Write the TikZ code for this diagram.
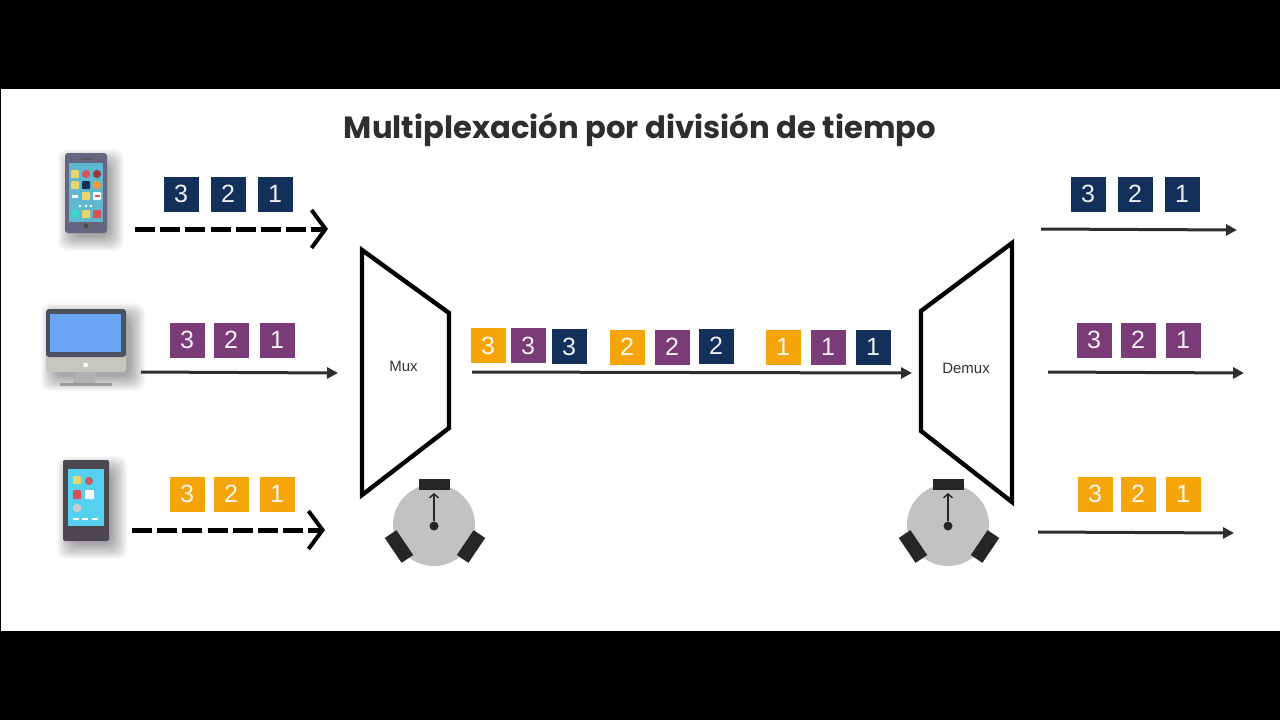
\documentclass[tikz,border=0pt]{standalone}
\usepackage{fontspec}
\setmainfont{Liberation Sans}
\newfontfamily\titlefont{Poppins}
\usetikzlibrary{arrows.meta}
\definecolor{azul}{HTML}{12305A}
\definecolor{morado}{HTML}{7B3B78}
\definecolor{naranja}{HTML}{F5A50A}
\definecolor{linea}{HTML}{2E2E2E}
\definecolor{amarillo}{HTML}{E9D56A}
\definecolor{rojo}{HTML}{DB4F57}
\definecolor{turquesa}{HTML}{3FD8C8}
\newcommand{\softshadow}[4]{\foreach \d in {-2,...,13} {\fill[black,opacity=0.022,rounded corners=9pt] (#1-\d,#2-\d) rectangle (#3+\d,#4+\d);}}
\begin{document}
\begin{tikzpicture}[x=1pt,y=-1pt]
    \tikzset{
        paquete/.style={minimum size=35pt,inner sep=0pt,text=white!92!#1,fill=#1,font=\fontsize{25}{25}\selectfont},
        flecha/.style={linea,line width=3pt,-{Triangle[length=11pt,width=11pt]}},
        punteada/.style={black,line width=5pt,dash pattern=on 20pt off 5.2pt,-{Straight Barb[length=14pt,width=38pt,line width=4pt]}},
        trapecio/.style={line width=4.4pt,miter limit=20,fill=white},
        etiqueta/.style={inner sep=0pt,text=black!80,font=\fontsize{15}{15}\selectfont},
        robot/.pic={
            \node[circle,fill=black!24,minimum size=82pt,inner sep=0pt] (-cuerpo) at (0,0) {};
            \node[fill=black!85,minimum width=31pt,minimum height=11pt,inner sep=0pt] (-sensor) at (0,-40.5) {};
            \node[fill=black!85,minimum width=30pt,minimum height=14pt,inner sep=0pt,rotate=-56] (-ruedaA) at (-35,21.5) {};
            \node[fill=black!85,minimum width=30pt,minimum height=14pt,inner sep=0pt,rotate=56] (-ruedaB) at (37,21.5) {};
            \node[circle,fill=black!85,minimum size=9pt,inner sep=0pt] (-eje) at (0,1) {};
            \coordinate (-punta) at (0,-32);
            \draw[black!85,line width=1.4pt,-{Straight Barb[length=4pt,width=9pt]}] (-eje) -- (-punta);
        }
    }
    % fondo
    \fill[black] (0,0) rectangle (1280,720);
    \fill[white] (1,89) rectangle (1280,631);
    \node[inner sep=0pt,text=black!82] (titulo) at (640,130) {\titlefont\fontsize{30.7}{31}\selectfont\bfseries Multiplexación por división de tiempo};

    % telefono
    \softshadow{71}{162}{111}{238}
    \fill[fill=black!50!blue!20!gray,rounded corners=3pt] (65,153) rectangle (107,233);
    \fill[fill={rgb,255:red,95;green,183;blue,208}] (69,163) rectangle (103,222);
    \fill[black!65] (81,158) rectangle (91,160);
    \fill[black!70] (86,226) circle (2.6);
    \foreach \ix/\iy/\ic in {75/174/amarillo,75/185/amarillo,86/185/azul,86/196/amarillo,75/214/turquesa,97/214/rojo,86/214/amarillo,97/196/white}
        \fill[\ic,rounded corners=1pt] (\ix-4,\iy-4) rectangle (\ix+4,\iy+4);
    \fill[white] (72,194.5) rectangle (78,197.5);
    \fill[rojo] (94.5,195) rectangle (99.5,197);
    \foreach \ix/\iy/\ic in {86/174/rojo,97/174/rojo!70!black,97/185/orange!80}
        \fill[\ic] (\ix,\iy) circle (4);
    \foreach \ix in {80,86,91}
        \fill[white] (\ix,206) circle (1.3);

    % monitor
    \softshadow{54}{316}{132}{378}
    \fill[black!30] (76,372) -- (97,372) -- (95,383) -- (73,383) -- cycle;
    \fill[black!40] (60,383) rectangle (112,386);
    \fill[fill={rgb,255:red,198;green,199;blue,189},rounded corners=3pt] (46,350) rectangle (126,372);
    \fill[fill={rgb,255:red,74;green,81;blue,96},rounded corners=3pt] (46,309) rectangle (126,357);
    \fill[fill={rgb,255:red,106;green,164;blue,245}] (50,314) rectangle (121,352);
    \fill[white] (85.5,365) circle (2.4);

    % tablet
    \softshadow{70}{469}{114}{546}
    \fill[fill={rgb,255:red,77;green,72;blue,80},rounded corners=2pt] (63,460) rectangle (109,541);
    \fill[fill={rgb,255:red,86;green,208;blue,239}] (68,469) rectangle (104,526);
    \fill[amarillo,rounded corners=1pt] (73,476) rectangle (81,484);
    \fill[rojo!70!gray] (89,481) circle (4);
    \fill[rojo,rounded corners=1pt] (73,490) rectangle (81,499);
    \fill[white,rounded corners=1pt] (85,490) rectangle (94,499);
    \fill[black!20] (77,508) circle (4.3);
    \foreach \ix in {76,85,95}
        \fill[white] (\ix-3,518) rectangle (\ix+3,520);
    \fill[black!70] (85,533) circle (2);

    % paquetes de entrada
    \foreach \n/\px in {3/181,2/228,1/275}
        \node[paquete=azul] (ea\n) at (\px,194) {\n};
    \foreach \n/\px in {3/187,2/231,1/277} {
        \node[paquete=morado] (eb\n) at (\px,340) {\n};
        \node[paquete=naranja] (ec\n) at (\px,494) {\n};
    }
    % paquetes de salida
    \foreach \n/\px in {3/1088,2/1135,1/1182}
        \node[paquete=azul] (sa\n) at (\px,194) {\n};
    \foreach \n/\px in {3/1094,2/1138,1/1183}
        \node[paquete=morado] (sb\n) at (\px,340) {\n};
    \foreach \n/\px in {3/1095,2/1138,1/1183}
        \node[paquete=naranja] (sc\n) at (\px,494) {\n};
    % paquetes del canal
    \foreach \n/\t/\px/\py/\c in {a/3/488/345.5/naranja,b/3/528/345.5/morado,c/3/569/346.5/azul,d/2/627/347/naranja,e/2/672/347/morado,f/2/716/346/azul,g/1/783/347/naranja,h/1/828/347/morado,i/1/873/347/azul}
        \node[paquete=\c] (canal\n) at (\px,\py) {\t};

    % mux y demux
    \draw[trapecio] (362,250) -- (449,313) -- (449,428) -- (362,495) -- cycle;
    \draw[trapecio] (921,311) -- (1012,243) -- (1012,502) -- (921,431) -- cycle;
    \node[etiqueta] (mux) at (403.5,366) {Mux};
    \node[etiqueta] (demux) at (966,368) {Demux};
    \pic (robotA) at (434,525) {robot};
    \pic (robotB) at (948,525) {robot};

    % flechas
    \coordinate (inA) at (135,229);
    \coordinate (outA) at (328,229);
    \coordinate (inB) at (141,372);
    \coordinate (outB) at (338,373);
    \coordinate (inC) at (132,530);
    \coordinate (outC) at (325,530);
    \coordinate (inM) at (472,372);
    \coordinate (outM) at (912,373);
    \coordinate (inD) at (1041,229);
    \coordinate (outD) at (1237,230);
    \coordinate (inE) at (1048,372);
    \coordinate (outE) at (1244,373);
    \coordinate (inF) at (1038,532);
    \coordinate (outF) at (1234,533);
    \draw[punteada] (inA) -- (outA);
    \draw[flecha] (inB) -- (outB);
    \draw[punteada] (inC) -- (outC);
    \draw[flecha] (inM) -- (outM);
    \draw[flecha] (inD) -- (outD);
    \draw[flecha] (inE) -- (outE);
    \draw[flecha] (inF) -- (outF);
\end{tikzpicture}
\end{document}
